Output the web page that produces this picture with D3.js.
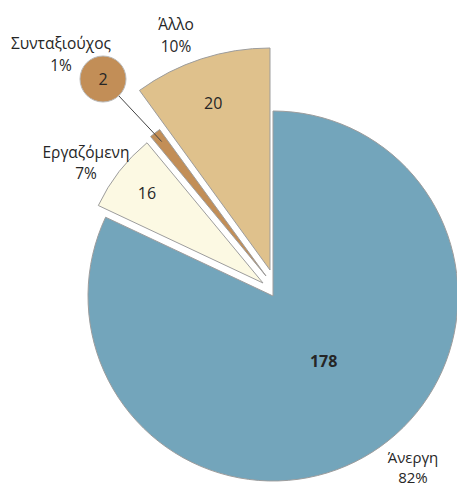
<!DOCTYPE html>
<html><head><meta charset="utf-8">
<script src="https://cdn.jsdelivr.net/npm/d3@7"></script>
<style>body{margin:0;background:#fff}svg{display:block}text{font-family:"Open Sans",sans-serif;fill:#262626}</style>
</head><body><svg id="c" width="457" height="488"></svg>
<script>
// data
const categories = ["Άνεργη","Εργαζόμενη","Συνταξιούχος","Άλλο"];
const counts = [178, 16, 2, 20];
const percents = [82, 7, 1, 10];
const percentLabels = ["82%","7%","1%","10%"];

// styling / layout
const colors = ["#73a5bb","#fcf9e3","#c28e57","#dfc18c"];
const center = [273, 296];
const offsets = [[0,0],[-10,-13],[-7,-20],[-3,-26]];
const radii = [185, 182, 181, 222];
const valueLabelR = [0.45, 0.8, 0, 0.8];
const valueNudge = [[6,-5],[-1,0],[0,0],[-2,2]];
const catLabelPos = [[413,463,483],[86,158,179],[61,49,71],[176,30,52]];
const catFont = ["15px","15.5px","15.5px","15.5px"];

const svg = d3.select("#c");
const pie = d3.pie().value(d => d).sort(null).startAngle(0).endAngle(2*Math.PI);
const arcs = pie(percents);

const g = svg.append("g").attr("transform", `translate(${center[0]},${center[1]})`);
const slices = g.selectAll("g.s").data(arcs).join("g")
  .attr("transform", (d,i) => `translate(${offsets[i][0]},${offsets[i][1]})`);

slices.append("path")
  .attr("d", (d,i) => d3.arc().innerRadius(0).outerRadius(radii[i])(d))
  .attr("fill", (d,i) => colors[i])
  .attr("stroke", "#9d9d9d").attr("stroke-width", 1);

// value labels
slices.filter((d,i) => i !== 2).append("text")
  .attr("transform", d => {
    const i = arcs.indexOf(d);
    const a = (d.startAngle + d.endAngle)/2, r = radii[i]*valueLabelR[i];
    return `translate(${Math.sin(a)*r + valueNudge[i][0]},${-Math.cos(a)*r + valueNudge[i][1]})`;
  })
  .attr("text-anchor","middle").attr("dy","0.35em")
  .style("font-size","16px")
  .style("font-weight", d => arcs.indexOf(d) === 0 ? "bold" : "normal")
  .text(d => counts[arcs.indexOf(d)]);

// callout for small slice
const small = arcs[2];
const sa = (small.startAngle + small.endAngle)/2;
const sr = radii[2]*0.94;
const endX = center[0] + offsets[2][0] + Math.sin(sa)*sr;
const endY = center[1] + offsets[2][1] - Math.cos(sa)*sr;
const bc = [103, 79], br = 23;
const ang = Math.atan2(endY - bc[1], endX - bc[0]);
svg.append("line")
  .attr("x1", bc[0] + Math.cos(ang)*br).attr("y1", bc[1] + Math.sin(ang)*br)
  .attr("x2", endX).attr("y2", endY)
  .attr("stroke", "#444").attr("stroke-width", 1);
svg.append("circle").attr("cx", bc[0]).attr("cy", bc[1]).attr("r", br)
  .attr("fill", colors[2]).attr("stroke", "#b8b8b8").attr("stroke-width", 1);
svg.append("text").attr("x", bc[0]).attr("y", bc[1]).attr("dy","0.35em")
  .attr("text-anchor","middle").style("font-size","16px").text(counts[2]);

// category labels
categories.forEach((c,i) => {
  const p = catLabelPos[i];
  svg.append("text").attr("x", p[0]).attr("y", p[1]).attr("text-anchor","middle")
    .style("font-size",catFont[i]).text(c);
  svg.append("text").attr("x", p[0]).attr("y", p[2]).attr("text-anchor","middle")
    .style("font-size",catFont[i]).text(percentLabels[i]);
});
</script></body></html>
